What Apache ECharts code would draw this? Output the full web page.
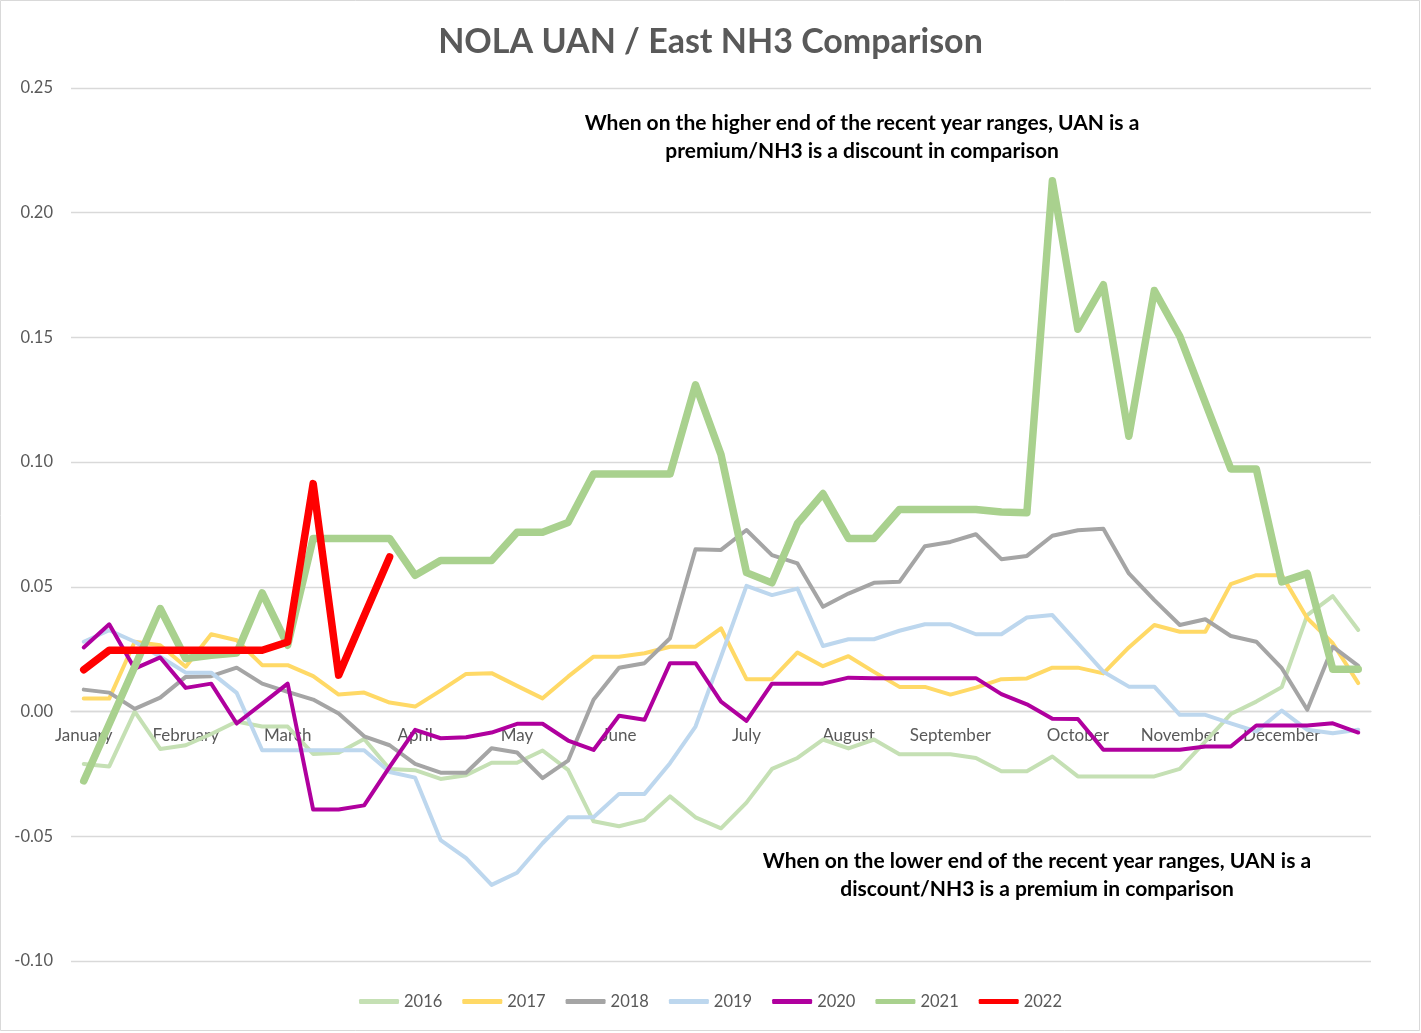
<!DOCTYPE html>
<html>
<head>
<meta charset="utf-8">
<script src="https://cdn.jsdelivr.net/npm/echarts@6/dist/echarts.min.js"></script>
<style>
html,body{margin:0;padding:0;background:#fff;}
#c{width:1421px;height:1033px;}
</style>
</head>
<body>
<div id="c"></div>
<script>
// ---- data ----
const weekCount = 51;
const weeks = Array.from({length: weekCount}, (_, i) => 'Week ' + (i + 1));
const monthNames = ['January','February','March','April','May','June','July','August','September','October','November','December'];
const monthWeekIndex = [0,4,8,13,17,21,26,30,34,39,43,47];
const yTicks = { min: -0.10, max: 0.25, step: 0.05 };

const s2016 = [-0.021,-0.022,0.000,-0.015,-0.0135,-0.009,-0.004,-0.006,-0.006,-0.017,-0.0165,-0.011,-0.023,-0.0235,-0.027,-0.0255,-0.0205,-0.0205,-0.0156,-0.0234,-0.044,-0.046,-0.0434,-0.034,-0.0424,-0.0468,-0.0365,-0.023,-0.0186,-0.0112,-0.0148,-0.0112,-0.0171,-0.0171,-0.0171,-0.0186,-0.0239,-0.0239,-0.018,-0.026,-0.026,-0.026,-0.026,-0.023,-0.012,-0.001,0.004,0.0098,0.0387,0.0463,0.0327];
const s2017 = [0.0052,0.0052,0.028,0.0266,0.018,0.031,0.0286,0.0186,0.0186,0.0142,0.0068,0.0076,0.0036,0.002,0.0084,0.0151,0.0154,0.0103,0.0053,0.014,0.022,0.022,0.0234,0.026,0.026,0.0334,0.013,0.013,0.0237,0.0182,0.0222,0.0159,0.0099,0.0099,0.0068,0.0096,0.013,0.0133,0.0176,0.0176,0.0153,0.0257,0.0347,0.032,0.032,0.0511,0.0547,0.0547,0.0374,0.0274,0.0114];
const s2018 = [0.0088,0.0076,0.0011,0.0056,0.0139,0.0142,0.0176,0.0112,0.0079,0.0048,-0.0008,-0.0099,-0.0135,-0.021,-0.0245,-0.0245,-0.0147,-0.0164,-0.0267,-0.0197,0.0047,0.0176,0.0194,0.0294,0.0651,0.0648,0.0728,0.0627,0.0594,0.042,0.0473,0.0516,0.052,0.0663,0.068,0.0711,0.0611,0.0624,0.0705,0.0727,0.0733,0.0554,0.0447,0.0347,0.037,0.0303,0.028,0.0174,0.0007,0.026,0.0183];
const s2019 = [0.028,0.0326,0.028,0.022,0.0156,0.0156,0.0075,-0.0155,-0.0155,-0.0155,-0.0155,-0.0155,-0.0242,-0.0265,-0.0515,-0.0588,-0.0695,-0.0646,-0.0528,-0.0424,-0.0424,-0.033,-0.033,-0.0207,-0.006,0.022,0.0504,0.0467,0.0493,0.0263,0.029,0.029,0.0324,0.035,0.035,0.031,0.031,0.0377,0.0387,0.0274,0.016,0.010,0.010,-0.0013,-0.0013,-0.0047,-0.008,0.0004,-0.0073,-0.0087,-0.0073];
const s2020 = [0.0257,0.035,0.0172,0.0217,0.0095,0.0112,-0.0048,0.0032,0.0112,-0.0393,-0.0393,-0.0376,-0.0222,-0.0073,-0.0107,-0.0103,-0.0084,-0.0049,-0.0049,-0.0116,-0.0154,-0.0017,-0.0033,0.0194,0.0194,0.004,-0.0037,0.0112,0.0112,0.0112,0.0136,0.0134,0.0134,0.0134,0.0134,0.0134,0.007,0.0029,-0.0029,-0.003,-0.0153,-0.0153,-0.0153,-0.0153,-0.014,-0.014,-0.0056,-0.0056,-0.0056,-0.0047,-0.0084];
const s2021 = [-0.0278,-0.005,0.018,0.0413,0.0213,0.0226,0.0235,0.0476,0.0266,0.0694,0.0694,0.0694,0.0694,0.0546,0.0606,0.0606,0.0606,0.0719,0.0719,0.0758,0.0952,0.0952,0.0952,0.0952,0.131,0.103,0.0557,0.0516,0.0754,0.0874,0.0694,0.0694,0.081,0.081,0.081,0.081,0.080,0.0797,0.2128,0.1533,0.1711,0.1104,0.1688,0.1504,0.1239,0.0973,0.0973,0.052,0.0554,0.017,0.017];
const s2022 = [0.0168,0.0246,0.0246,0.0246,0.0246,0.0246,0.0246,0.0246,0.0279,0.0914,0.0146,0.0384,0.062];

const seriesNames = ['2016','2017','2018','2019','2020','2021','2022'];
const seriesData = [s2016, s2017, s2018, s2019, s2020, s2021, s2022];

const titleText = 'NOLA UAN / East NH3 Comparison';
const noteHigh = ['When on the higher end of the recent year ranges, UAN is a', 'premium/NH3 is a discount in comparison'];
const noteLow = ['When on the lower end of the recent year ranges, UAN is a', 'discount/NH3 is a premium in comparison'];

// ---- styles ----
const colors = ['#c5e0b4','#ffd966','#a5a5a5','#bdd7ee','#b0009e','#a9d18e','#ff0000'];
const widths = [4,4,4,4,4,7.5,7.5];
const FONT = 'Lato, "Open Sans", "Noto Sans", sans-serif';

const GRID = {left: 71, right: 50, top: 88, bottom: 72};
const CH = 1033;
const plotH = CH - GRID.top - GRID.bottom;
// distance from the plot bottom up to the zero value, so the category axis sits on y = 0
const zeroOffset = -plotH * (0 - yTicks.min) / (yTicks.max - yTicks.min);

const monthLabelAt = weeks.map((_, i) => {
  const k = monthWeekIndex.indexOf(i);
  return k >= 0 ? monthNames[k] : '';
});

const chart = echarts.init(document.getElementById('c'), null, {renderer: 'canvas'});

function noteText(lines, cx, cy) {
  return {
    type: 'text',
    z: 100,
    style: {
      text: lines.join('\n'),
      x: cx, y: cy,
      align: 'center', verticalAlign: 'top',
      fontFamily: FONT, fontSize: 21, fontWeight: 'bold',
      lineHeight: 28, fill: '#000000'
    }
  };
}

chart.setOption({
  backgroundColor: '#ffffff',
  animation: false,
  textStyle: {fontFamily: FONT},
  grid: GRID,
  legend: {
    top: 988,
    left: 'center',
    icon: 'roundRect',
    itemWidth: 40,
    itemHeight: 5,
    itemGap: 20,
    data: seriesNames,
    textStyle: {color: '#595959', fontSize: 16.5, fontFamily: FONT}
  },
  xAxis: {
    type: 'category',
    data: weeks,
    boundaryGap: true,
    position: 'bottom',
    offset: zeroOffset,
    axisLine: {show: true, onZero: false, lineStyle: {color: '#d9d9d9', width: 1.3}},
    axisTick: {show: false},
    axisLabel: {
      interval: 0,
      margin: 15,
      color: '#595959',
      fontSize: 17,
      fontFamily: FONT,
      formatter: (v, i) => monthLabelAt[i]
    },
    splitLine: {show: false}
  },
  yAxis: {
    type: 'value',
    min: yTicks.min,
    max: yTicks.max,
    interval: yTicks.step,
    axisLine: {show: false},
    axisTick: {show: false},
    axisLabel: {
      margin: 18,
      color: '#595959',
      fontSize: 16.5,
      fontFamily: FONT,
      formatter: v => v.toFixed(2)
    },
    splitLine: {lineStyle: {color: '#d9d9d9', width: 1.3}}
  },
  series: seriesNames.map((n, k) => ({
    name: n,
    type: 'line',
    data: seriesData[k],
    symbol: 'none',
    smooth: false,
    color: colors[k],
    lineStyle: {color: colors[k], width: widths[k], cap: 'round', join: 'round'},
    z: 2 + k
  })),
  graphic: [
    {
      type: 'rect',
      silent: true,
      shape: {x: 0.5, y: 0.5, width: 1419, height: 1030},
      style: {fill: 'none', stroke: '#d9d9d9', lineWidth: 1}
    },
    {
      type: 'text',
      style: {
        text: titleText,
        x: 710.5, y: 42,
        align: 'center', verticalAlign: 'middle',
        fontFamily: FONT, fontSize: 34, fontWeight: 'bold',
        fill: '#595959'
      }
    },
    noteText(noteHigh, 862, 109),
    noteText(noteLow, 1037, 847)
  ]
});
</script>
</body>
</html>
